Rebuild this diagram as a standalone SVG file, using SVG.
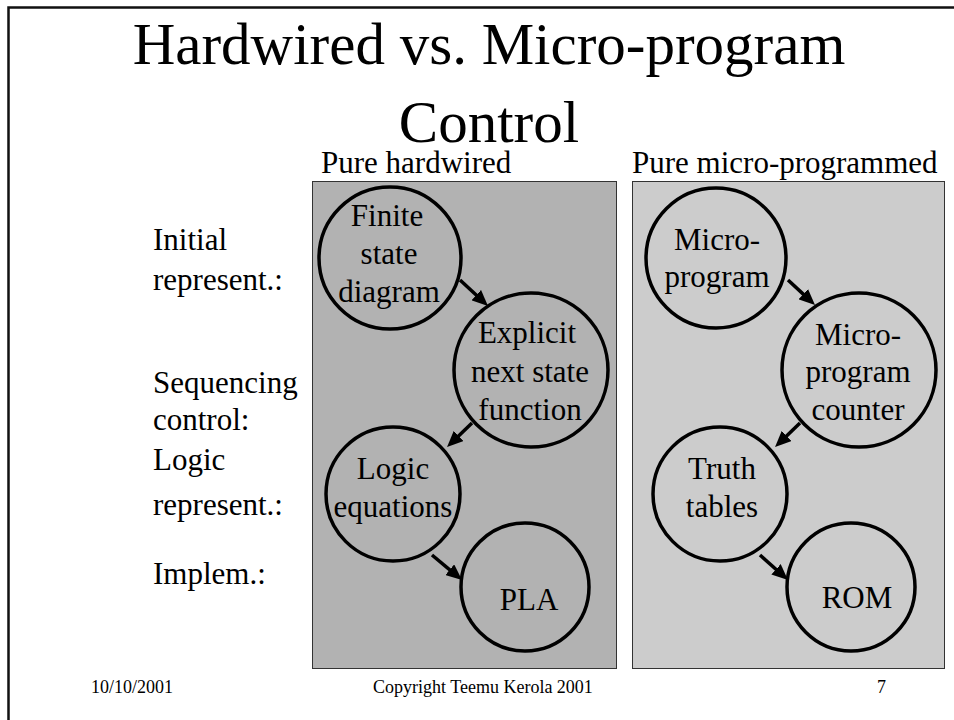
<svg xmlns="http://www.w3.org/2000/svg" width="954" height="720" viewBox="0 0 954 720">
<style>
text{font-family:"Liberation Serif","Times New Roman",serif;fill:#000}
.t{font-size:59px;text-anchor:middle}
.l{font-size:31px}
.n{font-size:31px;text-anchor:middle}
.f{font-size:18px}
.c{stroke:#000;stroke-width:3.5}
.a{stroke:#000;stroke-width:3.5;fill:none;marker-end:url(#ah)}
</style>
<defs>
<marker id="ah" viewBox="0 0 16 14" refX="4" refY="7" markerWidth="16" markerHeight="14" markerUnits="userSpaceOnUse" orient="auto">
<path d="M0,0 L16,7 L0,14 z" fill="#000"/>
</marker>
</defs>
<rect x="0" y="0" width="954" height="720" fill="#fff"/>
<rect x="8.5" y="7.5" width="1000" height="1000" fill="none" stroke="#111" stroke-width="2.5"/>
<g id="title">
<text class="t" x="489" y="64">Hardwired vs. Micro-program</text>
<text class="t" x="489" y="142">Control</text>
</g>
<g id="row-labels">
<text class="l" x="153" y="250">Initial</text>
<text class="l" x="153" y="290">represent.:</text>
<text class="l" x="153" y="393">Sequencing</text>
<text class="l" x="153" y="430">control:</text>
<text class="l" x="153" y="470">Logic</text>
<text class="l" x="153" y="515">represent.:</text>
<text class="l" x="153" y="584">Implem.:</text>
</g>
<g id="panel-hardwired">
<text class="l" x="321" y="173">Pure hardwired</text>
<rect x="312.5" y="181.5" width="304" height="487" fill="#b2b2b2" stroke="#333" stroke-width="1"/>
</g>
<g id="panel-micro">
<text class="l" x="632" y="173">Pure micro-programmed</text>
<rect x="632.5" y="181.5" width="312" height="487" fill="#cccccc" stroke="#333" stroke-width="1"/>
</g>
<g id="n-fsd">
<circle class="c" cx="390" cy="258" r="71" fill="#b2b2b2"/>
<text class="n" x="387" y="226">Finite</text>
<text class="n" x="389" y="264">state</text>
<text class="n" x="389" y="302">diagram</text>
</g>
<g id="n-nsf">
<circle class="c" cx="531" cy="370" r="77" fill="#b2b2b2"/>
<text class="n" x="527" y="343">Explicit</text>
<text class="n" x="530" y="382">next state</text>
<text class="n" x="530" y="420">function</text>
</g>
<g id="n-logic">
<circle class="c" cx="393" cy="494" r="67" fill="#b2b2b2"/>
<text class="n" x="393" y="479">Logic</text>
<text class="n" x="393" y="517">equations</text>
</g>
<g id="n-pla">
<circle class="c" cx="525" cy="587" r="64" fill="#b2b2b2"/>
<text class="n" x="529" y="610">PLA</text>
</g>
<g id="n-mp">
<circle class="c" cx="716" cy="258" r="70" fill="#cccccc"/>
<text class="n" x="717" y="250">Micro-</text>
<text class="n" x="717" y="287">program</text>
</g>
<g id="n-mpc">
<circle class="c" cx="859" cy="370" r="77" fill="#cccccc"/>
<text class="n" x="858" y="345">Micro-</text>
<text class="n" x="858" y="382">program</text>
<text class="n" x="858" y="420">counter</text>
</g>
<g id="n-tt">
<circle class="c" cx="720" cy="494" r="67" fill="#cccccc"/>
<text class="n" x="722" y="479">Truth</text>
<text class="n" x="722" y="517">tables</text>
</g>
<g id="n-rom">
<circle class="c" cx="851" cy="587" r="64" fill="#cccccc"/>
<text class="n" x="857" y="608">ROM</text>
</g>
<g id="connectors">
<line class="a" x1="460" y1="280" x2="479.2" y2="297.8"/>
<line class="a" x1="472" y1="423" x2="455.7" y2="438.7"/>
<line class="a" x1="432" y1="555" x2="452.8" y2="572.3"/>
<line class="a" x1="788" y1="280" x2="806.2" y2="296.9"/>
<line class="a" x1="800" y1="423" x2="783.7" y2="438.7"/>
<line class="a" x1="760" y1="555" x2="779" y2="572"/>
</g>
<g id="footer">
<text class="f" x="91" y="693">10/10/2001</text>
<text class="f" x="373" y="693">Copyright Teemu Kerola 2001</text>
<text class="f" x="877" y="693">7</text>
</g>
</svg>
